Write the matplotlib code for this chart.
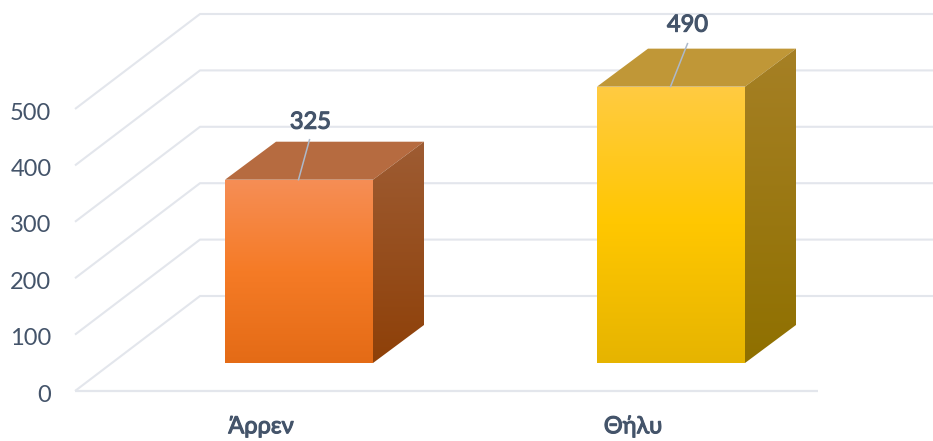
import numpy as np
import matplotlib
matplotlib.use("Agg")
import matplotlib.pyplot as plt
import matplotlib.patheffects as pe
from matplotlib.colors import LinearSegmentedColormap
from matplotlib.patches import Polygon
from matplotlib.transforms import Affine2D

categories = ["Άρρεν", "Θήλυ"]
values = [325, 490]
y_ticks = [0, 100, 200, 300, 400, 500]

W, H = 933, 441
PX_PER_UNIT_Y = 0.564      # pixels per value unit
PX_PER_CAT = 372           # pixels per category step
X0_PX, Y0_PX = 299, 391    # pixel of category 0 centre, value 0

def dx(px): return px / PX_PER_CAT
def dy(px): return px / PX_PER_UNIT_Y

TEXT = "#44546A"
GRID = "#E3E6EC"
FONT = ["Lato", "Open Sans", "DejaVu Sans"]
BOLD = [pe.withStroke(linewidth=0.8, foreground=TEXT)]

plt.rcParams["font.family"] = FONT
fig = plt.figure(figsize=(W / 100, H / 100), dpi=100, facecolor="white")
ax = fig.add_axes([0, 0, 1, 1])
xlim = (-X0_PX / PX_PER_CAT, (W - X0_PX) / PX_PER_CAT)
ylim = (-(H - Y0_PX) / PX_PER_UNIT_Y, Y0_PX / PX_PER_UNIT_Y)

# wall / floor geometry
wall_left = -dx(X0_PX - 75)
depth_x, depth_y = dx(125), dy(95)
wall_right = dx(W - X0_PX)
floor_right = dx(818 - X0_PX)
for v in y_ticks:
    xs = [wall_left, wall_left + depth_x, wall_right]
    ys = [v, v + depth_y, v + depth_y]
    ax.plot(xs, ys, color=GRID, lw=1.5, zorder=1, solid_joinstyle="round", solid_capstyle="butt")
ax.plot([wall_left, floor_right], [0, 0], color=GRID, lw=1.6, zorder=1, solid_capstyle="butt")

# bars
half = dx(74)
base = dy(28)
bar_dx, bar_dy = dx(51), dy(38)

styles = [
    dict(front=["#F68E56", "#F57B26", "#E46B16"], top="#B66B40",
         side=["#9E5C33", "#8E4008"]),
    dict(front=["#FFCB42", "#FFC700", "#E6B400"], top="#C09737",
         side=["#A68025", "#8F7000"]),
]

def shaded(poly_pts, colors, extent, z):
    cmap = LinearSegmentedColormap.from_list("g", colors)
    grad = np.linspace(1, 0, 256).reshape(-1, 1)
    im = ax.imshow(grad, extent=extent, aspect="auto", cmap=cmap, vmin=0, vmax=1,
                   origin="lower", zorder=z, interpolation="bilinear")
    clip = Polygon(poly_pts, closed=True, transform=ax.transData, fc="none", ec="none")
    ax.add_patch(clip)
    im.set_clip_path(clip)

for i, (v, st) in enumerate(zip(values, styles)):
    l, r = i - half, i + half
    b, t = base, base + v
    shaded([(l, b), (r, b), (r, t), (l, t)], st["front"], (l, r, b, t), 3)
    ax.add_patch(Polygon([(l, t), (r, t), (r + bar_dx, t + bar_dy), (l + bar_dx, t + bar_dy)],
                         closed=True, fc=st["top"], ec="none", zorder=3))
    shaded([(r, b), (r + bar_dx, b + bar_dy), (r + bar_dx, t + bar_dy), (r, t)],
           st["side"], (r, r + bar_dx, b, t + bar_dy), 3)

# data labels with leader lines
offsets = [(11, 40, 12, 47), (17, 43, 17, 51)]
for i, (v, (lx, ly, tx, ty)) in enumerate(zip(values, offsets)):
    x0, y0 = i - dx(0.5), base + v
    ax.plot([x0, x0 + dx(lx)], [y0, y0 + dy(ly)], color="#ADB9CA", lw=1.1, zorder=4)
    ax.text(x0 + dx(tx), y0 + dy(ty), str(v), ha="center", va="bottom",
            color=TEXT, fontsize=17, zorder=5, path_effects=BOLD)

# axes
ax.set_xlim(xlim)
ax.set_ylim(ylim)
ax.set_yticks(y_ticks)
ax.set_yticklabels([str(t) for t in y_ticks], va="center_baseline")
ax.tick_params(axis="y", length=0, pad=-37, labelsize=17, labelcolor=TEXT)
for tick in ax.yaxis.get_major_ticks():
    tick.label1.set_transform(tick.label1.get_transform() + Affine2D().translate(0, -2))
ax.set_xticks(np.arange(len(categories)) - dx(38))
ax.set_xticklabels(categories, path_effects=BOLD)
ax.tick_params(axis="x", length=0, pad=-17.8, labelsize=17, labelcolor=TEXT)
for s in ax.spines.values():
    s.set_visible(False)
ax.patch.set_visible(False)

fig.savefig("out.png", dpi=100, facecolor="white")
